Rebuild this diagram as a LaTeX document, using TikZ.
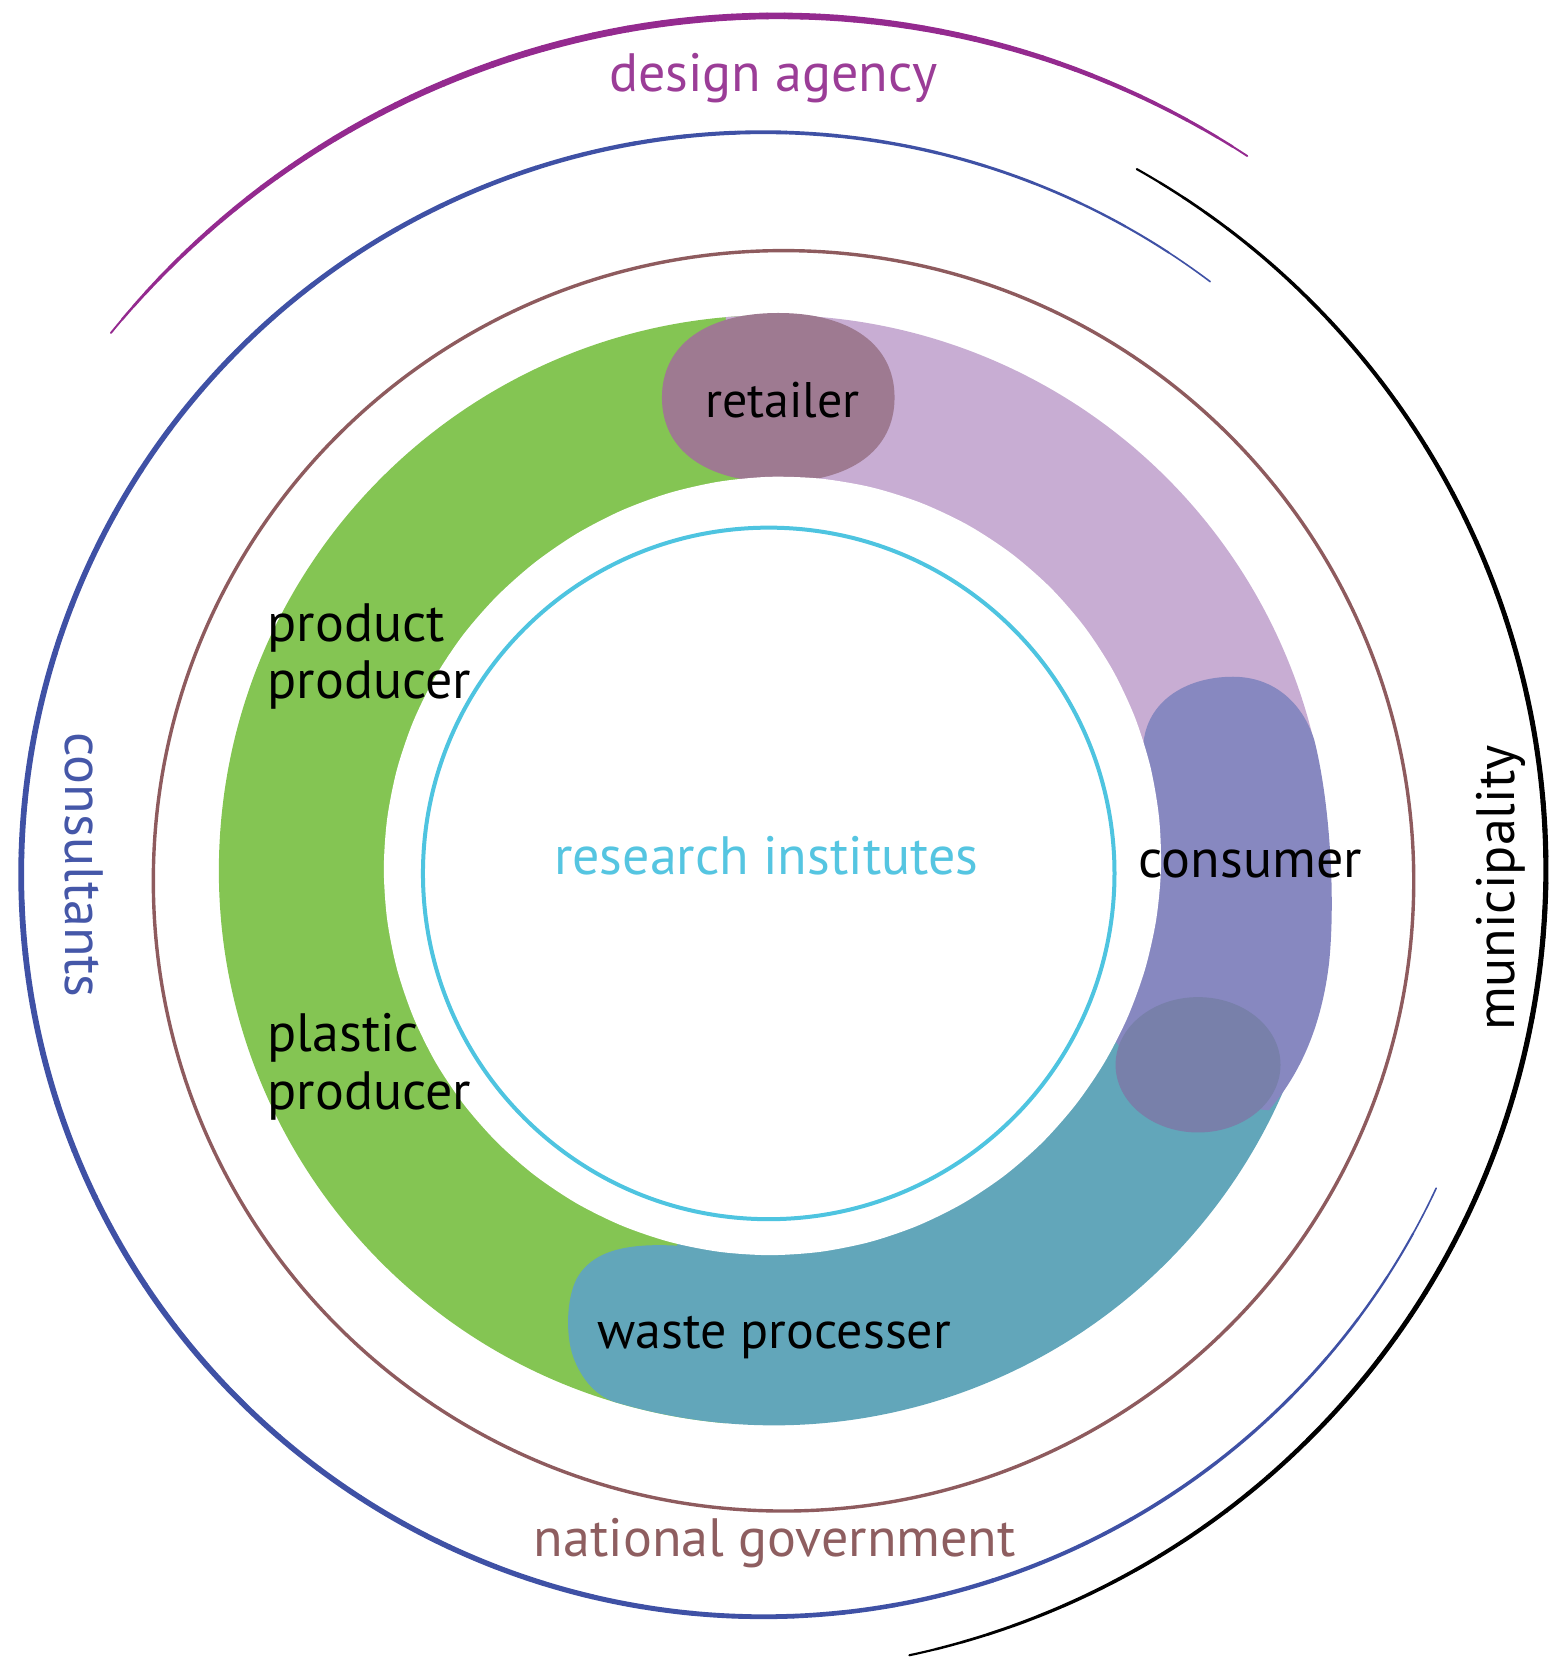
\documentclass[tikz,border=0pt]{standalone}
\usepackage{fontspec}
\setmainfont{PT Sans}
\definecolor{cgreen}{HTML}{84C553}
\definecolor{clpurp}{HTML}{C8ADD3}
\definecolor{cret}{HTML}{9E7A91}
\definecolor{ccons}{HTML}{8788C0}
\definecolor{cteal}{HTML}{62A6BA}
\definecolor{cover}{HTML}{7880AA}
\definecolor{ccyan}{HTML}{4EC4E0}
\definecolor{cbrown}{HTML}{8E5B5E}
\definecolor{cblue}{HTML}{3F51A5}
\definecolor{cpurple}{HTML}{942A8F}
\definecolor{tpurple}{HTML}{9B3D97}
\definecolor{tblue}{HTML}{4557A8}
\definecolor{tbrown}{HTML}{8E5E60}
\definecolor{tcyan}{HTML}{55C5E1}
% tapered arc: color, cx, cy, r, start, end, max width (pt), min fraction
\newcommand\taperarc[8]{%
  \pgfmathsetmacro\stp{(#6-#5)/72}%
  \foreach \k in {0,...,71}{%
    \pgfmathsetmacro\aa{#5+\stp*\k}%
    \pgfmathsetmacro\bb{#5+\stp*(\k+1)}%
    \pgfmathsetmacro\ww{#7*(#8+(1-#8)*(sin(2.5*(\k+0.5)))^0.6)}%
    \draw[#1,line width=\ww pt,line cap=round] ({#2+#4*cos(\aa)},{#3+#4*sin(\aa)}) arc[start angle=\aa,end angle=\bb,radius=#4];
  }}
\begin{document}
\begin{tikzpicture}[x=0.52867pt,y=-0.52867pt,
  lab/.style={inner sep=0pt,outer sep=0pt,font=\fontsize{27}{28.8}\selectfont},
  twoline/.style={lab,align=left}]
\useasboundingbox (0,0) rectangle (1465,1568);
% band sectors
\fill[cgreen] (732,823) -- ({732+525*cos(95)},{823+525*sin(95)}) arc[start angle=95,end angle=272,radius=525] -- cycle;
\fill[clpurp] (732,823) -- ({732+525*cos(265)},{823+525*sin(265)}) arc[start angle=265,end angle=372,radius=525] -- cycle;
\fill[cteal] ({732+525*cos(106.3)},{823+525*sin(106.3)}) arc[start angle=106.3,end angle=15,radius=525]
  -- (732,823) -- (660,1150) -- (640,1178) .. controls (600,1176) and (565,1180) .. (548,1205)
  .. controls (536,1222) and (534,1260) .. (542,1283) .. controls (550,1305) and (565,1322) .. ({732+525*cos(106.3)},{823+525*sin(106.3)}) -- cycle;
% retailer blob (superellipse)
\fill[cret] (736,296) .. controls (804,296) and (846,326) .. (846,376)
  .. controls (846,426) and (804,456) .. (736,456)
  .. controls (668,456) and (626,426) .. (626,376)
  .. controls (626,326) and (668,296) .. (736,296) -- cycle;
% consumer blob
\fill[ccons] (1070,760) -- (1081,710) .. controls (1081,665) and (1120,640) .. (1166,640)
  .. controls (1205,640) and (1232,665) .. (1243,700) .. controls (1258,760) and (1263,850) .. (1257,910)
  .. controls (1250,970) and (1230,1015) .. (1200,1050) -- (1100,1040) -- (1055,985) -- (1050,960) -- (1060,900) -- cycle;
\fill[cover] (1133,1007) ellipse[x radius=78,y radius=64];
% hole
\fill[white] plot[smooth cycle,samples=48,domain=0:352.5]
  ({728+(365+11*(max(0,cos(\x-312)))^2)*cos(\x)},{822+(365+11*(max(0,cos(\x-312)))^2)*sin(\x)});
% circles and arcs
\draw[ccyan,line width=2pt] (727,826) circle[radius=327];
\draw[cbrown,line width=1.7pt] (741,833) circle[radius=596];
\taperarc{cpurple}{735}{827}{812}{219.1}{303.2}{3.4}{0.2}
\taperarc{cblue}{722}{827}{702}{307}{25}{2.9}{0.2}
\taperarc{black}{702}{822}{760}{299.4}{438}{2.6}{0.35}
% labels
\node[lab,anchor=base west,font=\fontsize{25}{28.8}\selectfont] (retailer) at (667,395) {retailer};
\node[twoline,anchor=base west] (prodprod) at (253,661) {product\\producer};
\node[twoline,anchor=base west] (plastprod) at (253,1049) {plastic\\producer};
\node[lab,anchor=base west] (consumer) at (1077,830) {consumer};
\node[lab,anchor=base west,text=tcyan] (research) at (524,827) {research institutes};
\node[lab,anchor=base west,font=\fontsize{26}{28.8}\selectfont] (waste) at (565,1275) {waste processer};
\node[lab,anchor=base west,text=tpurple] (design) at (576,87) {design agency};
\node[lab,anchor=base west,text=tbrown] (natgov) at (505,1472) {national government};
\node[lab,anchor=base west,text=tblue,rotate=-90] (consult) at (62,693) {consultants};
\node[lab,anchor=base west,rotate=90] (munic) at (1432,975) {municipality};
\end{tikzpicture}
\end{document}
